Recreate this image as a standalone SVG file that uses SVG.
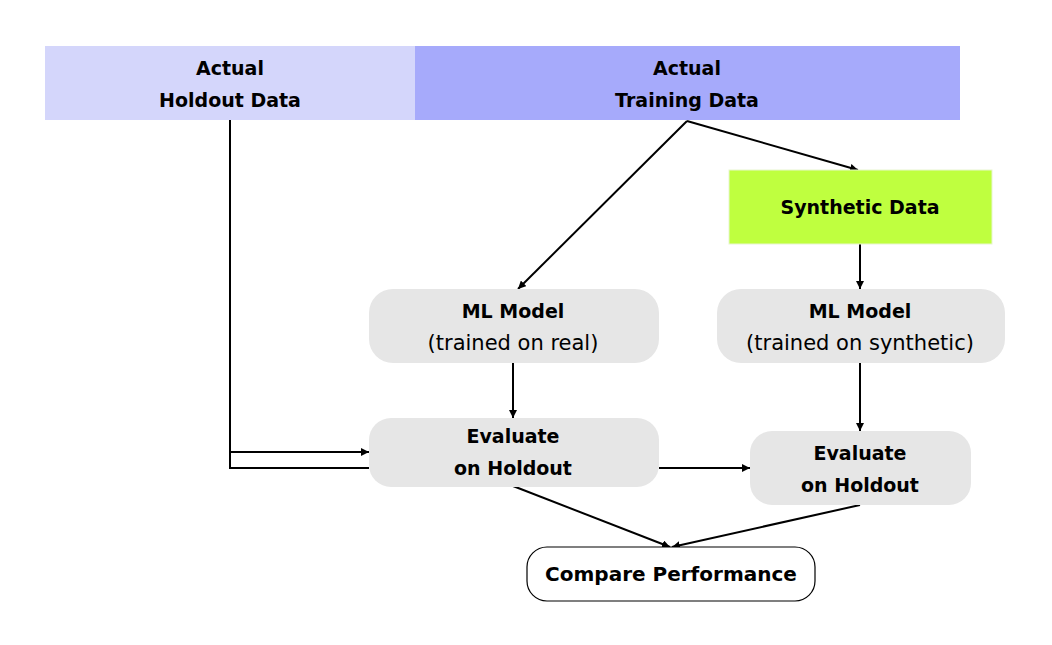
<svg xmlns="http://www.w3.org/2000/svg" width="1052" height="645" viewBox="0 0 1052 645">
<defs>
<marker id="ah" viewBox="0 0 10 10" refX="10" refY="5" markerWidth="8" markerHeight="8" markerUnits="userSpaceOnUse" orient="auto">
<path d="M0,0 L10,5 L0,10 z" fill="#000"/>
</marker>
<style>
text{font-family:"DejaVu Sans","Liberation Sans",sans-serif;font-size:19px;fill:#000;text-anchor:middle}
.b{font-weight:bold}
.r{font-size:21px}
.gray{fill:#e6e6e6}
.c{fill:none;stroke:#000;stroke-width:2}
.a{marker-end:url(#ah)}
</style>
</defs>
<rect width="1052" height="645" fill="#fff"/>
<g id="connectors">
<path class="c" d="M230,120 V468 H369"/>
<path class="c a" d="M230,452 H369"/>
<path class="c a" d="M659,468 H750"/>
<path class="c a" d="M687,121 L518,289"/>
<path class="c a" d="M687,121 L858,170"/>
<path class="c a" d="M860,244 V289"/>
<path class="c a" d="M513,363 V418"/>
<path class="c a" d="M860,363 V431"/>
<path class="c a" d="M513,486 L670,547"/>
<path class="c a" d="M860,505 L672,547"/>
</g>
<g id="holdout">
<rect x="45" y="46" width="370" height="74" fill="#d4d6fb"/>
<text class="b" x="230" y="75">Actual</text>
<text class="b" x="230" y="107">Holdout Data</text>
</g>
<g id="training">
<rect x="415" y="46" width="545" height="74" fill="#a6aafb"/>
<text class="b" x="687" y="75">Actual</text>
<text class="b" x="687" y="107">Training Data</text>
</g>
<g id="synthetic">
<rect x="729" y="170" width="263" height="74" fill="#bfff3f" stroke="#e8f5d0" stroke-width="1"/>
<text class="b" x="860" y="214">Synthetic Data</text>
</g>
<g id="mlreal">
<rect class="gray" x="369" y="289" width="290" height="74" rx="24"/>
<text class="b" x="513" y="318">ML Model</text>
<text class="r" x="513" y="350">(trained on real)</text>
</g>
<g id="mlsynth">
<rect class="gray" x="717" y="289" width="288" height="74" rx="24"/>
<text class="b" x="860" y="318">ML Model</text>
<text class="r" x="860" y="350">(trained on synthetic)</text>
</g>
<g id="evalreal">
<rect class="gray" x="369" y="418" width="290" height="69" rx="22"/>
<text class="b" x="513" y="443">Evaluate</text>
<text class="b" x="513" y="475">on Holdout</text>
</g>
<g id="evalsynth">
<rect class="gray" x="750" y="431" width="221" height="74" rx="22"/>
<text class="b" x="860" y="460">Evaluate</text>
<text class="b" x="860" y="492">on Holdout</text>
</g>
<g id="compare">
<rect x="527" y="547" width="288" height="54" rx="20" fill="#fff" stroke="#000" stroke-width="1.2"/>
<text class="b" x="671" y="581" style="font-size:20px">Compare Performance</text>
</g>
</svg>
